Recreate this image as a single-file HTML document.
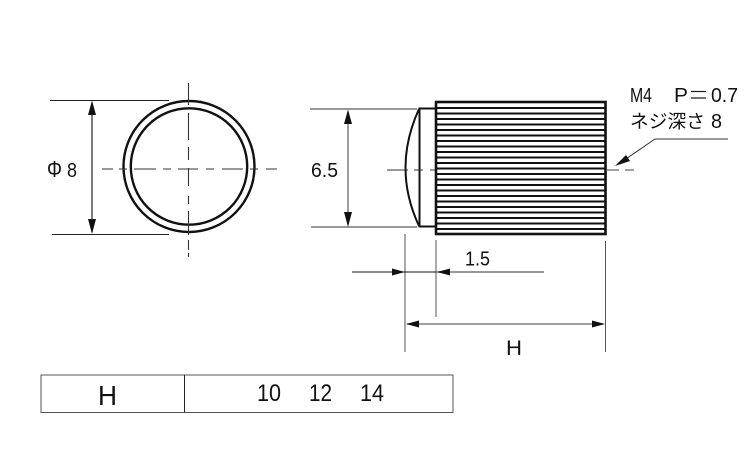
<!DOCTYPE html>
<html>
<head>
<meta charset="utf-8">
<style>
html,body{margin:0;padding:0;background:#fff;}
svg{display:block;}
text{font-family:"Liberation Sans","Noto Sans CJK JP",sans-serif;fill:#111;}
</style>
</head>
<body>
<svg width="750" height="450" viewBox="0 0 750 450" xmlns="http://www.w3.org/2000/svg">
<rect width="750" height="450" fill="#fff"/>

<!-- Left view -->
<circle cx="189" cy="166.5" r="65.5" fill="none" stroke="#111" stroke-width="2.400"/>
<circle cx="189" cy="166.5" r="58.2" fill="none" stroke="#111" stroke-width="2.400"/>
<path d="M102 169H113M119 169H127M134 169H156M163 169H171M178 169H198M206 169H214M222 169H243M250 169H258M266 169H277" stroke="#333" stroke-width="1.100" fill="none"/>
<path d="M188.500 83V105M188.500 113V140M188.500 147V160M188.500 168V186M188.500 196V204M188.500 211V235M188.500 240V250M188.500 253V257" stroke="#333" stroke-width="1.100" fill="none"/>
<path d="M50 100.500H169M52 234.500H169" stroke="#222" stroke-width="1" fill="none"/>
<path d="M92 103V232" stroke="#222" stroke-width="1.200" fill="none"/>
<path d="M92 100.500L96 115H88Z M92 234L96 219H88Z" fill="#111"/>
<text x="47" y="177" font-size="23" textLength="15" lengthAdjust="spacingAndGlyphs">Φ</text>
<text x="67" y="177" font-size="20" textLength="10" lengthAdjust="spacingAndGlyphs">8</text>

<!-- Right view: knurled body -->
<rect x="436" y="102" width="169.500" height="132" fill="#fff" stroke="#111" stroke-width="2.600"/>
<path d="M436 108H605M436 113.500H605M436 119H605M436 124.500H605M436 130H605M436 135.500H605M436 141H605M436 146.500H605M436 152H605M436 157.500H605M436 163H605M436 168.500H605M436 174H605M436 179.500H605M436 185H605M436 190.500H605M436 196H605M436 201.500H605M436 207H605M436 212.500H605M436 218H605M436 223.500H605M436 229H605" stroke="#111" stroke-width="1.900" fill="none"/>

<!-- Neck and dome -->
<path d="M436 108.500H419.500V226.500H436" fill="none" stroke="#111" stroke-width="2"/>
<path d="M419 109Q392 168 419 226" fill="none" stroke="#111" stroke-width="2"/>

<!-- Centre line right view -->
<path d="M387 170H408M414 170H423M430 170H435" stroke="#333" stroke-width="1.100" fill="none"/>
<path d="M607 170H619M625 170H634" stroke="#444" stroke-width="1.100" fill="none"/>

<!-- 6.5 dimension -->
<path d="M310 109H417M311 227H417" stroke="#333" stroke-width="1" fill="none"/>
<path d="M348 112V224" stroke="#666" stroke-width="1.300" fill="none"/>
<path d="M348 109.500L352 124H344Z M348 227L352 212H344Z" fill="#111"/>
<text x="311" y="177" font-size="20.500" textLength="27" lengthAdjust="spacingAndGlyphs">6.5</text>

<!-- Extension lines -->
<path d="M405 234V352M436 240V317M605.500 241V352" stroke="#555" stroke-width="1" fill="none"/>

<!-- 1.5 dimension -->
<path d="M352 272H436" stroke="#111" stroke-width="1" fill="none"/>
<path d="M436 272H544" stroke="#777" stroke-width="1.400" fill="none"/>
<path d="M405 272L392 268.500V275.500Z M437 272L450 268.500V275.500Z" fill="#111"/>
<text x="465" y="265.500" font-size="20" textLength="25" lengthAdjust="spacingAndGlyphs">1.5</text>

<!-- H dimension -->
<path d="M407 324H603" stroke="#666" stroke-width="1.300" fill="none"/>
<path d="M406 324L419 320.500V327.500Z M605 324L592 320.500V327.500Z" fill="#111"/>
<text x="506" y="355" font-size="21" textLength="16" lengthAdjust="spacingAndGlyphs">H</text>

<!-- Leader -->
<path d="M728 139H655L620 163" stroke="#333" stroke-width="1" fill="none"/>
<path d="M615 166L626 155L630 161Z" fill="#111"/>
<text x="630" y="102" font-size="20" textLength="22" lengthAdjust="spacingAndGlyphs">M4</text>
<text x="674" y="102" font-size="20" textLength="14" lengthAdjust="spacingAndGlyphs">P</text>
<path d="M691 91.500H706M691 98H706" stroke="#222" stroke-width="1.300" fill="none"/>
<text x="711" y="102" font-size="20" textLength="27" lengthAdjust="spacingAndGlyphs">0.7</text>
<text x="630" y="128" font-size="18.500" textLength="75" lengthAdjust="spacingAndGlyphs">ネジ深さ</text>
<text x="711" y="128" font-size="20" textLength="11" lengthAdjust="spacingAndGlyphs">8</text>

<!-- Table -->
<rect x="41" y="375" width="412" height="37.500" fill="#fff" stroke="#555" stroke-width="1"/>
<path d="M184.500 375V412.500" stroke="#222" stroke-width="1" fill="none"/>
<text x="98" y="405" font-size="28" textLength="19" lengthAdjust="spacingAndGlyphs">H</text>
<text x="257" y="401" font-size="24" textLength="24" lengthAdjust="spacingAndGlyphs">10</text>
<text x="309" y="401" font-size="24" textLength="23" lengthAdjust="spacingAndGlyphs">12</text>
<text x="360" y="401" font-size="24" textLength="24" lengthAdjust="spacingAndGlyphs">14</text>
</svg>
</body>
</html>
